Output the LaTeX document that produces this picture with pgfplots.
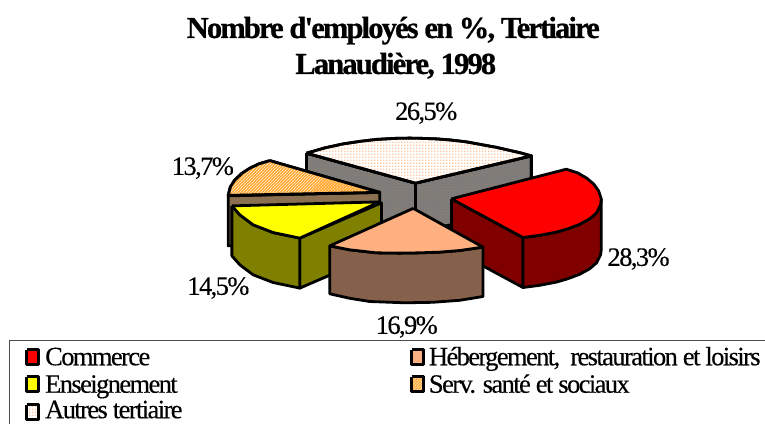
\documentclass[border=0pt]{standalone}
\usepackage{fontspec}
\setmainfont{Liberation Serif}
\usepackage{pgfplots}
\pgfplotsset{compat=1.18}
\usetikzlibrary{patterns}
\pgfdeclarepatternformonly{hatchx}{\pgfqpoint{-1pt}{-1pt}}{\pgfqpoint{4pt}{4pt}}{\pgfqpoint{3pt}{3pt}}{\pgfsetlinewidth{1.3pt}\pgfpathmoveto{\pgfqpoint{-1pt}{-1pt}}\pgfpathlineto{\pgfqpoint{4pt}{4pt}}\pgfusepath{stroke}}
\pgfdeclarepatternformonly{dotx}{\pgfqpoint{0pt}{0pt}}{\pgfqpoint{3pt}{3pt}}{\pgfqpoint{3pt}{3pt}}{\pgfpathrectangle{\pgfqpoint{0pt}{0pt}}{\pgfqpoint{1.3pt}{1.3pt}}\pgfusepath{fill}}
\definecolor{cRed}{HTML}{FF0000}
\definecolor{cDarkRed}{HTML}{800000}
\definecolor{cYellow}{HTML}{FFFF00}
\definecolor{cOlive}{HTML}{808000}
\definecolor{cPeach}{HTML}{FFB080}
\definecolor{cBrown}{HTML}{85604A}
\definecolor{cHatch}{HTML}{FFA830}
\definecolor{cStripe}{HTML}{8A7050}
\definecolor{cDotL}{HTML}{FFC8A0}
\definecolor{cGrey}{HTML}{7C7C7C}
\definecolor{cDotG}{HTML}{927E6C}
\newfontfamily\lab[LetterSpace=-6,FakeBold=0.25]{Liberation Serif}
\newfontfamily\ttl[LetterSpace=-6,FakeBold=0.8]{Liberation Serif Bold}
\newcommand{\lt}[1]{{\fontsize{26.5}{26.5}\selectfont\lab #1}}
\newcommand{\tl}[1]{{\fontsize{30.5}{30.5}\selectfont\ttl #1}}
\pgfplotsset{
  w/.style={no markers,draw=black,line width=2.8pt,line join=round,fill=#1},
  wt/.style={no markers,draw=black,line width=2.8pt,line join=round,preaction={fill=white},pattern=hatchx,pattern color=cHatch},
  wl/.style={no markers,draw=black,line width=2.8pt,line join=round,preaction={fill=white},pattern=dotx,pattern color=cDotL},
  wg/.style={no markers,draw=black,line width=2.8pt,line join=round,preaction={fill=cGrey},pattern=dotx,pattern color=cDotG},
}
\begin{document}
\begin{tikzpicture}[x=1pt,y=1pt]
\begin{axis}[
  width=765pt,height=424pt,scale only axis,
  xmin=0,xmax=765,ymin=0,ymax=424,y dir=reverse,
  hide axis,clip=false,
]
\addplot[no markers,draw=white,fill=white,line width=0pt] coordinates {(0,0)(765,0)(765,424)(0,424)(0,0)};
% legend frame
\addplot[no markers,draw=black!70,line width=1pt] coordinates {(9.5,424)(9.5,341)(765,341)};
% Autres tertiaire: sides
\addplot[wg] coordinates {(306.7,153.3)(415.7,183.3)(415.7,233.3)(306.7,203.3)(306.7,153.3)};
\addplot[wg] coordinates {(415.7,183.3)(531.7,156)(531.7,206)(415.7,233.3)(415.7,183.3)};
% Autres tertiaire: top
\addplot[wl] coordinates {(306.7,153.3)(325,148)(343.3,144)(360,141.5)(376.7,139.5)(395,138.5)(410,138.2)(423.3,138.5)(437,139)(450,140)(467,142)(483.3,145)(497,147.5)(510,150.5)(521,153)(531.7,156)(415.7,183.3)(306.7,153.3)};
% Commerce
\addplot[w=cDarkRed] coordinates {(451.7,199)(523.3,237.7)(523.3,287.7)(451.7,249)(451.7,199)};
\addplot[w=cDarkRed] coordinates {(601.7,199)(601,205)(597,213)(590,219)(580,224.5)(568,229)(556.7,232.3)(540,235.5)(523.3,237.7)(523.3,287.7)(540,285.5)(556.7,282.3)(568,279)(580,274.5)(590,269)(597,263)(601,255)(601.7,249)(601.7,199)};
\addplot[w=cRed] coordinates {(451.7,199)(566.7,169.3)(578,173)(586.7,178)(594,184)(599,191)(601.7,199)(601,205)(597,213)(590,219)(580,224.5)(568,229)(556.7,232.3)(540,235.5)(523.3,237.7)(451.7,199)};
% Serv. sante et sociaux
\addplot[w=black] coordinates {(228.3,195)(228.3,246)(232,246)(232,195)(228.3,195)};
\addplot[w=cStripe] coordinates {(228.3,196)(380,192.5)(380,243)(228.3,246)(228.3,196)};
\addplot[wt] coordinates {(270,160.7)(259,164)(250,168.3)(242,173.5)(235,180)(230.5,187)(228.3,195.5)(380,192.5)(270,160.7)};
% Enseignement
\addplot[w=cOlive] coordinates {(300,238.3)(381.7,203)(381.7,253)(300,288.3)(300,238.3)};
\addplot[w=cOlive] coordinates {(232,206)(240,215)(253.3,225)(273.3,232.7)(300,238.3)(300,288.3)(273.3,282.7)(253.3,275)(240,265)(232,256)(232,206)};
\addplot[w=cYellow] coordinates {(232,206)(380,202)(300,238.3)(273.3,232.7)(253.3,225)(240,215)(232,206)};
% Hebergement
\addplot[w=cBrown] coordinates {(330,246)(350,250)(376.7,253)(400,253.3)(420,253)(440,252.3)(460,250.7)(483.3,247.3)(483.3,296.7)(460,300.5)(433,302.5)(405,303)(370,301.7)(350,298.5)(330,294)(330,246)};
\addplot[w=cPeach] coordinates {(413.5,208.5)(483.3,247.3)(460,250.7)(440,252.3)(420,253)(400,253.3)(376.7,253)(350,250)(330,246)(413.5,208.5)};
% legend keys
\addplot[w=cRed] coordinates {(26.7,350)(38.6,350)(38.6,364.5)(26.7,364.5)(26.7,350)};
\addplot[w=cYellow] coordinates {(26.7,377)(38.6,377)(38.6,392)(26.7,392)(26.7,377)};
\addplot[wl] coordinates {(26.7,405)(38.6,405)(38.6,419.5)(26.7,419.5)(26.7,405)};
\addplot[w=cPeach] coordinates {(412,350)(424,350)(424,364.5)(412,364.5)(412,350)};
\addplot[wt] coordinates {(412,377)(424,377)(424,392)(412,392)(412,377)};
% texts
\node[anchor=base,inner sep=0pt] at (axis cs:393.5,38) {\tl{Nombre d'employés en \%, Tertiaire}};
\node[anchor=base,inner sep=0pt] at (axis cs:396,74) {\tl{Lanaudière, 1998}};
\node[anchor=base,inner sep=0pt] at (axis cs:426.5,120) {\lt{26,5\%}};
\node[anchor=base,inner sep=0pt] at (axis cs:203,175) {\lt{13,7\%}};
\node[anchor=base,inner sep=0pt] at (axis cs:218.5,295) {\lt{14,5\%}};
\node[anchor=base,inner sep=0pt] at (axis cs:407,334) {\lt{16,9\%}};
\node[anchor=base,inner sep=0pt] at (axis cs:639,266) {\lt{28,3\%}};
\node[anchor=base west,inner sep=0pt] at (axis cs:45,365.5) {\lt{Commerce}};
\node[anchor=base west,inner sep=0pt] at (axis cs:45,393) {\lt{Enseignement}};
\node[anchor=base west,inner sep=0pt] at (axis cs:45,418.5) {\lt{Autres tertiaire}};
\node[anchor=base west,inner sep=0pt] at (axis cs:429,365.5) {\lt{Hébergement,\ \ restauration et loisirs}};
\node[anchor=base west,inner sep=0pt] at (axis cs:429,393) {\lt{Serv. santé et sociaux}};
\end{axis}
\end{tikzpicture}
\end{document}
